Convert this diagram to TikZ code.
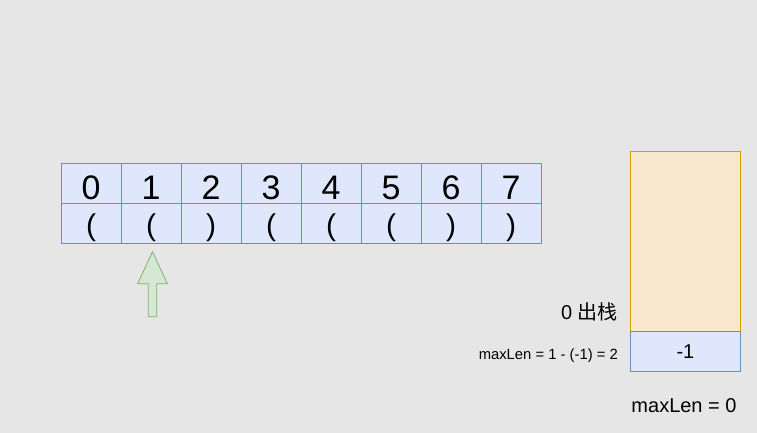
\documentclass[tikz,border=0pt]{standalone}
\usepackage{fontspec}
\setmainfont{Liberation Sans}
\newfontfamily\cjk{Noto Sans CJK SC}
\definecolor{bgc}{HTML}{E6E6E6}
\definecolor{bluef}{HTML}{DEE7FB}
\definecolor{blues}{HTML}{6C8EBF}
\definecolor{orangef}{HTML}{F8E6CD}
\definecolor{oranges}{HTML}{D79B00}
\definecolor{greenf}{HTML}{D5E8D4}
\definecolor{greens}{HTML}{82B366}
\begin{document}
\begin{tikzpicture}[x=1pt,y=-1pt,
  cell/.style={draw=blues,fill=bluef,line width=0.8pt,minimum width=60pt,minimum height=40pt,inner sep=0pt,anchor=north west},
  digit/.style={inner sep=0pt,anchor=base,font=\fontsize{34}{36}\selectfont},
  paren/.style={inner sep=0pt,anchor=base,font=\fontsize{30}{32}\selectfont},
  stackbox/.style={draw=oranges,fill=orangef,line width=0.8pt,minimum width=110pt,minimum height=180pt,inner sep=0pt,anchor=north west},
  lbl/.style={inner sep=0pt,font=\fontsize{20}{22}\selectfont}]
\fill[bgc] (0,0) rectangle (757,433);
\useasboundingbox (0,0) rectangle (757,433);
\foreach \i/\c in {0/(,1/(,2/),3/(,4/(,5/(,6/),7/)} {
  \node[cell] (d\i) at (61+60*\i,163) {};
  \node[cell] (p\i) at (61+60*\i,203) {};
  \node[digit] (dt\i) at (91+60*\i,199) {\i};
  \node[paren] (pt\i) at (91+60*\i,235) {\c};
}
\node[stackbox] (stk) at (630,151) {};
\node[cell,minimum width=110pt] (top) at (630,331) {};
\node[lbl] (topt) at (top.center) {-1};
\node[lbl,anchor=base east] (pop) at (618,319) {0 {\cjk 出栈}};
\node[inner sep=0pt,anchor=base east,font=\fontsize{14.8}{16}\selectfont] (calc) at (618,359) {maxLen = 1 - (-1) = 2};
\node[lbl,anchor=base] (ml) at (684,412) {maxLen = 0};
\draw[draw=greens,fill=greenf,line width=0.8pt,line join=miter]
  (152.5,251.7) -- (167.3,283.7) -- (156.7,283.7) -- (156.7,316.7)
  -- (148.3,316.7) -- (148.3,283.7) -- (137.7,283.7) -- cycle;
\end{tikzpicture}
\end{document}
